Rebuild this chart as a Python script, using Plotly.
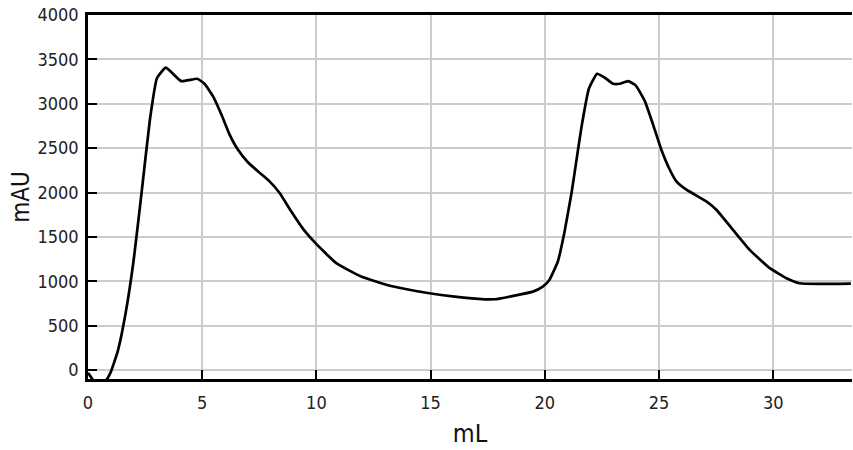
import plotly.graph_objects as go

# Chromatogram trace (volume in mL, absorbance in mAU)
volume_ml = [0.0, 0.3, 0.8, 1.0, 1.31, 1.66, 2.0, 2.36, 2.71, 3.02, 3.41, 4.08, 4.78, 5.1,
             5.47, 5.84, 6.2, 6.56, 7.0, 7.44, 7.95, 8.39, 8.9, 9.45, 9.96, 10.87, 11.96,
             13.27, 14.95, 16.05, 17.36, 17.8, 18.67, 19.48, 19.91, 20.2, 20.57, 20.86,
             21.17, 21.39, 21.6, 21.93, 22.29, 22.63, 22.99, 23.28, 23.65, 23.98, 24.38,
             24.74, 25.1, 25.4, 25.76, 26.2, 27.07, 27.51, 28.24, 28.97, 29.85, 30.58,
             31.16, 32.03, 33.4]
absorbance_mau = [-30, -130, -110, -20, 220, 660, 1240, 2030, 2820, 3290, 3408, 3255, 3282,
                  3226, 3086, 2879, 2653, 2484, 2341, 2239, 2126, 1995, 1787, 1580, 1430,
                  1205, 1054, 948, 866, 828, 798, 798, 839, 884, 941, 1016, 1223, 1553,
                  1995, 2371, 2729, 3169, 3338, 3293, 3226, 3226, 3255, 3207, 3030, 2766,
                  2484, 2296, 2126, 2032, 1900, 1806, 1580, 1355, 1148, 1035, 979, 971, 975]

x_ticks = [0, 5, 10, 15, 20, 25, 30]
y_ticks = [0, 500, 1000, 1500, 2000, 2500, 3000, 3500, 4000]
x_range = [0, 33.45]
y_range = [-100, 4000]

tick_font = dict(family="Liberation Sans Narrow, DejaVu Sans Condensed, sans-serif",
                 size=18, color="#222")
title_family = "DejaVu Sans Condensed, DejaVu Sans, sans-serif"

fig = go.Figure()
fig.add_trace(go.Scatter(
    x=volume_ml, y=absorbance_mau, mode="lines",
    line=dict(color="black", width=2.7, shape="spline", smoothing=0.4),
    showlegend=False, hoverinfo="x+y", cliponaxis=True,
))

fig.update_layout(
    width=853, height=450,
    margin=dict(l=88, r=1, t=15, b=71),
    paper_bgcolor="white", plot_bgcolor="white",
)
fig.update_xaxes(
    range=x_range, tickvals=x_ticks, ticks="inside", ticklen=9, tickwidth=1.5,
    tickcolor="black", showgrid=True, gridcolor="#cccccc", gridwidth=1.5,
    showline=True, linecolor="black", linewidth=2.5, mirror=True, zeroline=False,
    tickfont=tick_font, ticklabelstandoff=6,
    title=dict(text="mL", font=dict(family=title_family, size=25, color="#111"),
               standoff=13),
)
fig.update_yaxes(
    range=y_range, tickvals=y_ticks, ticks="inside", ticklen=9, tickwidth=1.5,
    tickcolor="black", showgrid=True, gridcolor="#cccccc", gridwidth=1.5,
    showline=True, linecolor="black", linewidth=2.5, zeroline=False,
    tickfont=tick_font, ticklabelstandoff=3,
    title=dict(text="mAU", font=dict(family=title_family, size=24, color="#111"),
               standoff=2),
)

fig.write_html("out.html")
